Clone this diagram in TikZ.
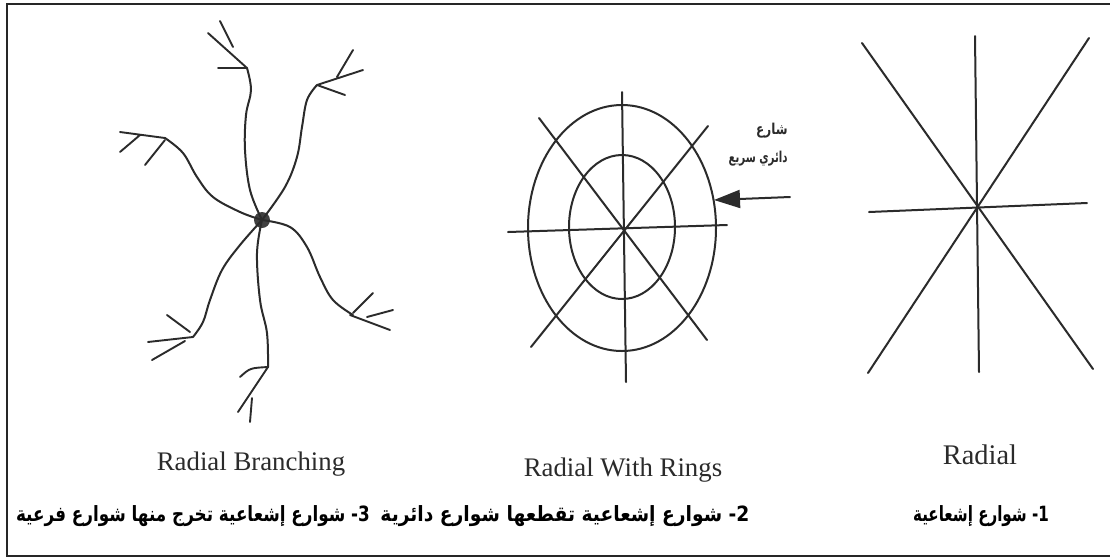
\documentclass[tikz,border=0pt]{standalone}
\usepackage{fontspec}
\setmainfont{Liberation Serif}
\newfontfamily\arabicfont[Script=Arabic]{DejaVu Sans}
\TeXXeTstate=1
\usepackage{xcolor}
\usepackage{graphicx}
\usetikzlibrary{arrows.meta}
\definecolor{inkgray}{HTML}{2B2B2B}

\begin{document}
\begin{tikzpicture}[x=0.5pt, y=-0.5pt,
  road/.style={draw=inkgray, line width=1pt, line cap=round, line join=round},
  twig/.style={draw=inkgray, line width=0.95pt, line cap=round},
  entitle/.style={font=\fontsize{13.4}{15}\selectfont, text=inkgray, inner sep=0pt},
  artitle/.style={font=\arabicfont\bfseries\fontsize{10.5}{12}\selectfont, text=black, inner sep=0pt}]
\useasboundingbox (0,0) rectangle (1110,559);
\fill[white] (0,0) rectangle (1110,559);
% frame, open on the right
\draw[black!85, line width=1.1pt] (1110,4) -- (7,4) -- (7,556) -- (1110,556);

% radial branching
\node[circle, fill=inkgray!90, inner sep=0pt, minimum size=8pt] (hub) at (262,220) {};
\draw[road] plot[smooth, tension=0.6] coordinates {(hub.center) (250,190) (245,150) (246,115) (251,90) (247,68)};
\draw[twig] (247,68) -- (208,33) (247,68) -- (218,68) (220,21) -- (233,47);
\draw[road] plot[smooth, tension=0.6] coordinates {(hub.center) (285,187) (297,157) (302,127) (307,100) (317,85)};
\draw[twig] (317,85) -- (363,70) (317,85) -- (345,95) (353,50) -- (337,77);
\draw[road] plot[smooth, tension=0.6] coordinates {(hub.center) (240,212) (213,197) (197,177) (183,153) (165,138)};
\draw[twig] (165,138) -- (120,132) (120,152) -- (140,135) (165,140) -- (145,165);
\draw[road] plot[smooth, tension=0.6] coordinates {(hub.center) (240,245) (222,270) (210,300) (203,322) (193,337)};
\draw[twig] (193,337) -- (148,342) (185,341) -- (152,360) (167,315) -- (190,332);
\draw[road] plot[smooth, tension=0.6] coordinates {(hub.center) (257,253) (260,300) (267,333) (268,367)};
\draw[twig] (268,367) .. controls (250,368) .. (240,377) (268,367) -- (238,412) (252,398) -- (250,422);
\draw[road] plot[smooth, tension=0.6] coordinates {(hub.center) (290,227) (307,247) (320,277) (333,300) (353,315)};
\draw[twig] (350,315) -- (390,330) (367,317) -- (393,310) (353,313) -- (373,293);

% radial with rings
\draw[road] (622,228) ellipse [x radius=94, y radius=123];
\draw[road] (622,227) ellipse [x radius=53, y radius=72];
\draw[road] (622,92) -- (626,382);
\draw[road] (508,232) -- (727,225);
\draw[road] (539,118) -- (707,340);
\draw[road] (708,126) -- (531,347);
\coordinate (ringtail) at (790,197);
\coordinate (ringtip) at (714,200);
\draw[road, -{Triangle[length=13pt, width=9pt]}] (ringtail) -- (ringtip);
\node[font=\arabicfont\bfseries\fontsize{7.5}{14}\selectfont, text=inkgray, align=right, anchor=north east, inner sep=0pt]
  (ringlbl) at (788,123) {\scalebox{0.8}[1]{\beginR شارع\endR}\\\scalebox{0.68}[1]{\beginR دائري سريع\endR}};

% radial
\draw[road] (975,36) -- (979,372);
\draw[road] (869,212) -- (1087,203);
\draw[road] (862,43) -- (1093,369);
\draw[road] (1089,38) -- (868,373);

% titles
\node[entitle] (branchlbl) at (251,464) {Radial Branching};
\node[entitle] (ringslbl) at (623,470) {Radial With Rings};
\node[entitle, font=\fontsize{14.2}{16}\selectfont] (radiallbl) at (980,455) {Radial};
\node[artitle] (branchar) at (193,516) {\scalebox{0.8}[1]{\beginR 3- شوارع إشعاعية تخرج منها شوارع فرعية\endR}};
\node[artitle] (ringsar) at (565,516) {\scalebox{0.89}[1]{\beginR 2- شوارع إشعاعية تقطعها شوارع دائرية\endR}};
\node[artitle] (radialar) at (981,516) {\scalebox{0.72}[1]{\beginR 1- شوارع إشعاعية\endR}};
\end{tikzpicture}
\end{document}
